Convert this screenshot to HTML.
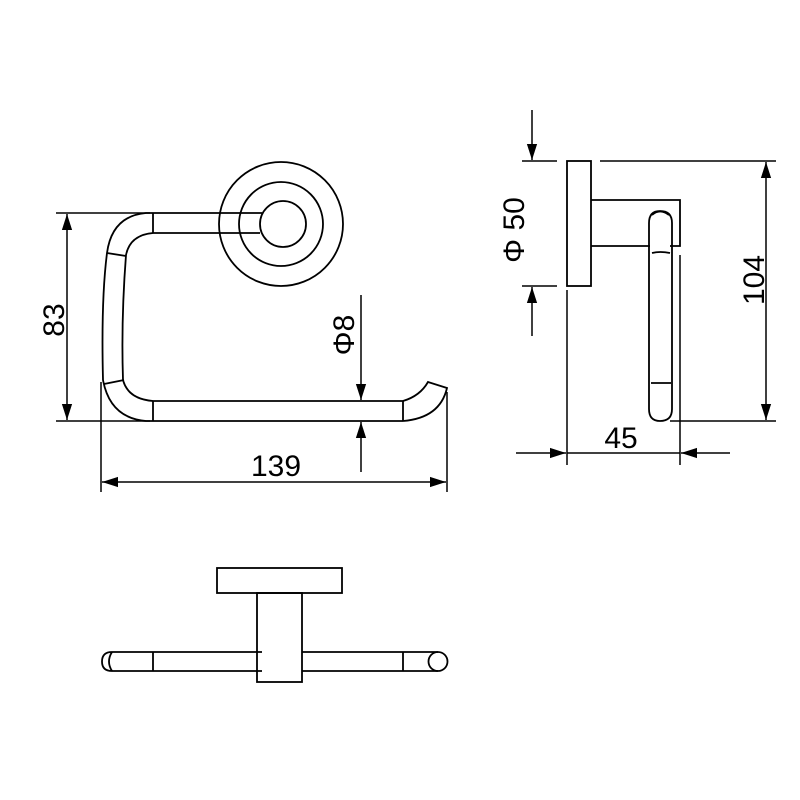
<!DOCTYPE html>
<html><head><meta charset="utf-8"><style>html,body{margin:0;padding:0;background:#fff}svg{display:block}</style></head>
<body>
<svg width="800" height="800" viewBox="0 0 800 800" xmlns="http://www.w3.org/2000/svg">
<defs>
<marker id="a" viewBox="0 0 10 10" refX="10" refY="5" markerWidth="16" markerHeight="16" markerUnits="userSpaceOnUse" orient="auto"><path d="M0,1.8 L10,5 L0,8.2 Z" fill="#000"/></marker>
</defs>
<g fill="none" stroke="#000" stroke-width="1.8">
<circle cx="281" cy="224" r="62"/>
<circle cx="281" cy="224" r="42"/>
<circle cx="283" cy="224" r="23" fill="#fff"/>
<path d="M153,213 L262,213 M153,233 L260,233 M153,213 L153,233"/>
<path d="M153,213 L146,213 Q112,216 107,253 Q101,300 103,380 Q110,418 146,421 L153,421"/>
<path d="M153,233 Q130,235 126,255 Q121,320 123,380 Q128,399 153,401"/>
<path d="M107,253 L126,256 M104,384 L124,380"/>
<path d="M153,401 L403,401 M153,421 L403,421 M153,401 L153,421 M403,401 L403,421"/>
<path d="M403,401 Q420,396 428,382 L447,388 Q440,418 403,421"/>
<g stroke-width="1.5">
<path d="M56,213 L150,213 M56,421 L150,421"/>
<path d="M67,317 L67,214" marker-end="url(#a)"/>
<path d="M67,317 L67,420" marker-end="url(#a)"/>
<path d="M101,382 L101,492 M447,392 L447,492"/>
<path d="M276,482 L102,482" marker-end="url(#a)"/>
<path d="M276,482 L446,482" marker-end="url(#a)"/>
<path d="M361,295 L361,400" marker-end="url(#a)"/>
<path d="M361,472 L361,422" marker-end="url(#a)"/>
</g>
<rect x="567" y="161" width="24" height="125"/>
<path d="M591,200 L680,200 L680,246 L670,246 M591,246 L650,246"/>
<path d="M649,223 Q649,211 660,211 Q672,211 672,223 L672,409 Q672,421 660,421 Q649,421 649,409 Z"/>
<path d="M652,215 Q660,208 669,215"/>
<path d="M652,253 Q660,251 670,253 M651,383 L671,383"/>
<g stroke-width="1.5">
<path d="M600,161 L776,161 M670,421 L776,421"/>
<path d="M766,290 L766,162" marker-end="url(#a)"/>
<path d="M766,290 L766,420" marker-end="url(#a)"/>
<path d="M522,161 L557,161 M522,286 L557,286"/>
<path d="M532,110 L532,160" marker-end="url(#a)"/>
<path d="M532,336 L532,287" marker-end="url(#a)"/>
<path d="M567,290 L567,465 M680,255 L680,465"/>
<path d="M516,453 L566,453" marker-end="url(#a)"/>
<path d="M730,453 L681,453" marker-end="url(#a)"/>
<path d="M567,453 L680,453"/>
</g>
<rect x="217" y="568" width="125" height="25"/>
<rect x="257" y="593" width="45" height="89"/>
<path d="M112,652 L262,652 M112,671 L262,671 M302,652 L438,652 M302,671 L438,671 M153,652 L153,671 M403,652 L403,671"/>
<path d="M112,652 Q102,652 102,661.5 Q102,671 112,671"/>
<path d="M112,652 Q106,661.5 112,671"/>
<circle cx="438" cy="661.5" r="9.5"/>
</g>
<g font-family="Liberation Sans, sans-serif" font-size="30" fill="#000">
<text x="0" y="0" transform="translate(64,320) rotate(-90)" text-anchor="middle">83</text>
<text x="276" y="476" text-anchor="middle">139</text>
<text x="0" y="0" transform="translate(354,335) rotate(-90)" text-anchor="middle">Φ8</text>
<text x="0" y="0" transform="translate(524,230) rotate(-90)" text-anchor="middle">Φ 50</text>
<text x="0" y="0" transform="translate(764,280) rotate(-90)" text-anchor="middle">104</text>
<text x="621" y="448" text-anchor="middle">45</text>
</g>
</svg>
</body></html>
